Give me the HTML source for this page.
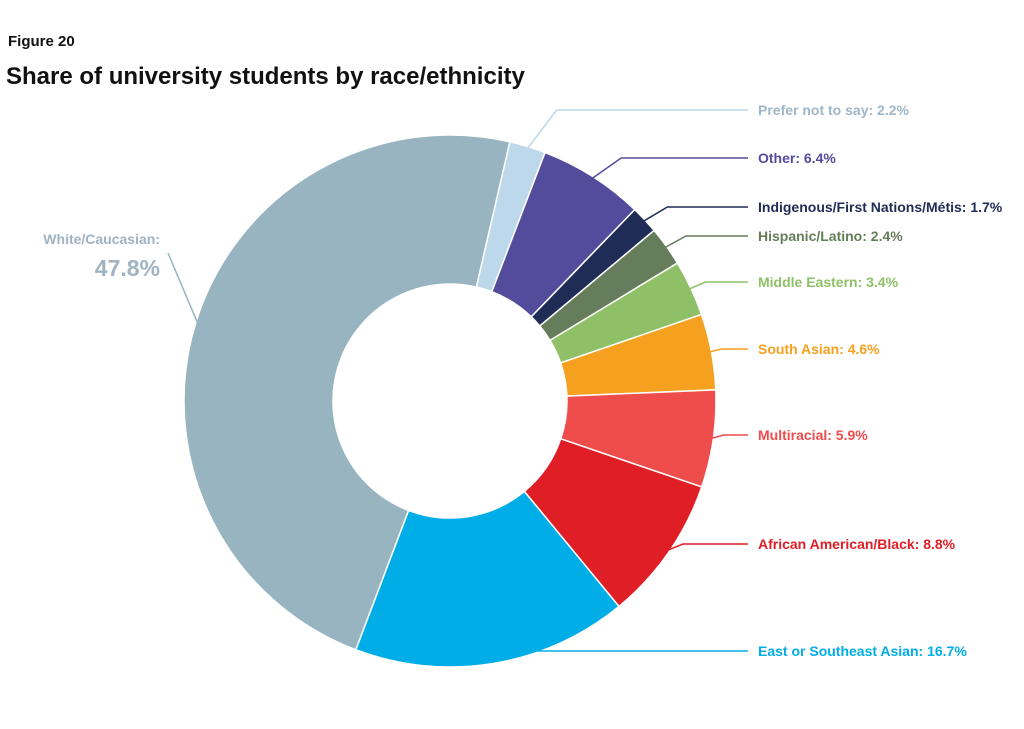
<!DOCTYPE html>
<html><head><meta charset="utf-8"><style>
body{margin:0;background:#fff;width:1024px;height:724px;overflow:hidden;font-family:"Liberation Sans",sans-serif}
</style></head><body>
<svg width="1024" height="724">
<text x="8" y="46" font-size="15" font-weight="bold" fill="#111">Figure 20</text>
<text x="6" y="84" font-size="24" font-weight="bold" fill="#111">Share of university students by race/ethnicity</text>
<g id="slices"></g><g id="labels"></g>
</svg>
<script>
const categories=["Prefer not to say","Other","Indigenous/First Nations/Métis","Hispanic/Latino","Middle Eastern","South Asian","Multiracial","African American/Black","East or Southeast Asian","White/Caucasian"];
const values=[2.2,6.4,1.7,2.4,3.4,4.6,5.9,8.8,16.7,47.8];
const colors=["#bcd8ea","#534c9c","#1f2d56","#667d5b","#8fbf66","#f6a020","#ef4c4c","#e01e26","#00ade6","#98b4c0"];
const textColors=["#9fb6c8","#534c9c","#1f2d56","#667d5b","#8fbf66","#f6a020","#ef4c4c","#e01e26","#00ade6","#9fb3c3"];
const labelY=[115,163,212,241,287,354,440,549,656,0];
const cx=450,cy=401,R=266,r=117,start=13;
const NS="http://www.w3.org/2000/svg";
const total=values.reduce((a,b)=>a+b,0);
function pt(a,rad){const t=(a-90)*Math.PI/180;return [cx+rad*Math.cos(t),cy+rad*Math.sin(t)];}
const sg=document.getElementById('slices'),lg=document.getElementById('labels');
let a=start;
values.forEach((v,i)=>{
  const sw=v/total*360,a2=a+sw,lf=sw>180?1:0;
  const p1=pt(a,R),p2=pt(a2,R),p3=pt(a2,r),p4=pt(a,r);
  const p=document.createElementNS(NS,'path');
  p.setAttribute('d',`M${p1}L${p1}A${R},${R} 0 ${lf} 1 ${p2}L${p3}A${r},${r} 0 ${lf} 0 ${p4}Z`);
  p.setAttribute('fill',colors[i]);p.setAttribute('stroke','#fff');p.setAttribute('stroke-width','1.5');
  
  
  sg.appendChild(p);
  const mid=a+sw/2;const m=pt(mid,R-3);
  const line=document.createElementNS(NS,'polyline');
  const t=document.createElementNS(NS,'text');
  if(i<9){
    const ly=labelY[i]-5;const x0=m[0]+Math.min(30,Math.abs(ly-m[1])+10);
    line.setAttribute('points',`${m[0]},${m[1]} ${x0},${ly} 748,${ly}`);
    t.setAttribute('x',758);t.setAttribute('y',labelY[i]);t.setAttribute('font-size','14');
    t.textContent=categories[i]+': '+v.toFixed(1)+'%';
  } else {
    line.setAttribute('points',`${m[0]},${m[1]} 168,253`);
    t.setAttribute('x',160);t.setAttribute('y',244);t.setAttribute('font-size','14');t.setAttribute('text-anchor','end');
    t.textContent=categories[i]+':';
    const t2=document.createElementNS(NS,'text');
    t2.setAttribute('x',160);t2.setAttribute('y',276);t2.setAttribute('font-size','23');t2.setAttribute('text-anchor','end');
    t2.setAttribute('font-weight','bold');t2.setAttribute('fill',textColors[i]);
    t2.textContent=v.toFixed(1)+'%';
    
    
    lg.appendChild(t2);
  }
  line.setAttribute('fill','none');line.setAttribute('stroke',colors[i]);line.setAttribute('stroke-width','1.5');
  
  
  t.setAttribute('font-weight','bold');t.setAttribute('fill',textColors[i]);
  
  
  lg.appendChild(line);lg.appendChild(t);
  a=a2;
});
</script>
</body></html>
